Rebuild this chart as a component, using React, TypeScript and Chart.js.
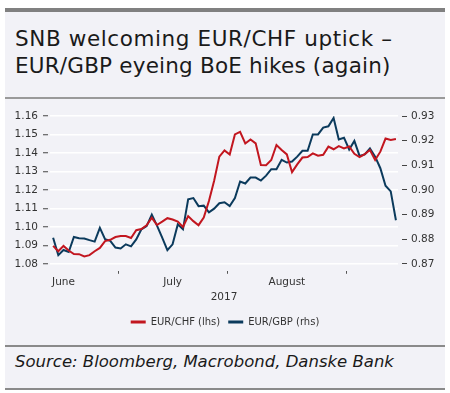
import React, { useEffect, useRef } from 'react';
import { Chart, registerables } from 'chart.js';

Chart.register(...registerables);

const dates = [
  '2017-06-14', '2017-06-15', '2017-06-16', '2017-06-19', '2017-06-20', '2017-06-21', '2017-06-22', '2017-06-23',
  '2017-06-26', '2017-06-27', '2017-06-28', '2017-06-29', '2017-06-30',
  '2017-07-03', '2017-07-04', '2017-07-05', '2017-07-06', '2017-07-07', '2017-07-10', '2017-07-11', '2017-07-12',
  '2017-07-13', '2017-07-14', '2017-07-17', '2017-07-18', '2017-07-19', '2017-07-20', '2017-07-21', '2017-07-24',
  '2017-07-25', '2017-07-26', '2017-07-27', '2017-07-28', '2017-07-31',
  '2017-08-01', '2017-08-02', '2017-08-03', '2017-08-04', '2017-08-07', '2017-08-08', '2017-08-09', '2017-08-10',
  '2017-08-11', '2017-08-14', '2017-08-15', '2017-08-16', '2017-08-17', '2017-08-18', '2017-08-21', '2017-08-22',
  '2017-08-23', '2017-08-24', '2017-08-25', '2017-08-28', '2017-08-29', '2017-08-30', '2017-08-31',
  '2017-09-01', '2017-09-04', '2017-09-05', '2017-09-06', '2017-09-07', '2017-09-08', '2017-09-11', '2017-09-12',
  '2017-09-13', '2017-09-14',
];

const eurChf = [
  1.0897, 1.0868, 1.0897, 1.0872, 1.0853, 1.0852, 1.0840, 1.0847, 1.0868, 1.0886, 1.0923, 1.0930, 1.0945,
  1.0950, 1.0950, 1.0940, 1.0982, 1.0988, 1.1008, 1.1049, 1.1010, 1.1028, 1.1047, 1.1040, 1.1028, 1.0999,
  1.1058, 1.1031, 1.1009, 1.1050, 1.1140, 1.1250, 1.1380, 1.1414,
  1.1392, 1.1500, 1.1514, 1.1451, 1.1473, 1.1452, 1.1335, 1.1334, 1.1362, 1.1443, 1.1416, 1.1392, 1.1296,
  1.1338, 1.1375, 1.1378, 1.1398, 1.1385, 1.1390, 1.1434, 1.1420, 1.1437, 1.1425,
  1.1435, 1.1395, 1.1378, 1.1394, 1.1416, 1.1362, 1.1407, 1.1478, 1.1470, 1.1475,
];

const eurGbp = [
  0.8806, 0.8735, 0.8756, 0.8748, 0.8809, 0.8804, 0.8803, 0.8796, 0.8790, 0.8846, 0.8800, 0.8793, 0.8766,
  0.8762, 0.8779, 0.8771, 0.8799, 0.8840, 0.8853, 0.8900, 0.8855, 0.8806, 0.8755, 0.8779, 0.8860, 0.8840,
  0.8962, 0.8967, 0.8934, 0.8936, 0.8909, 0.8924, 0.8946, 0.8950,
  0.8934, 0.8967, 0.9034, 0.9026, 0.9050, 0.9050, 0.9038, 0.9058, 0.9084, 0.9084, 0.9122, 0.9111, 0.9115,
  0.9135, 0.9159, 0.9159, 0.9225, 0.9225, 0.9253, 0.9258, 0.9292, 0.9205, 0.9212,
  0.9164, 0.9199, 0.9138, 0.9144, 0.9168, 0.9135, 0.9088, 0.9017, 0.8994, 0.8877,
];

const leftTicks = [1.08, 1.09, 1.10, 1.11, 1.12, 1.13, 1.14, 1.15, 1.16];
const rightTicks = [0.87, 0.88, 0.89, 0.90, 0.91, 0.92, 0.93];
const monthNames: Record<string, string> = { '06': 'June', '07': 'July', '08': 'August' };
const yearLabel = '2017';
const seriesNames = ['EUR/CHF (lhs)', 'EUR/GBP (rhs)'];

const RED = '#c2161f';
const BLUE = '#0b3a5c';
const FONT = '"DejaVu Sans"';
const TEXT = '#333333';

// month boundaries (between last day of one month and first of the next)
const monthBounds: number[] = [];
for (let i = 1; i < dates.length; i++) {
  if (dates[i].slice(5, 7) !== dates[i - 1].slice(5, 7)) monthBounds.push(i - 0.5);
}
// month label positions: first business day on/after the 16th
const monthLabelPos: number[] = [];
const monthLabelText: string[] = [];
Object.keys(monthNames).forEach((m) => {
  const idx = dates.findIndex((d) => d.slice(5, 7) === m && Number(d.slice(8, 10)) >= 16);
  if (idx >= 0) {
    monthLabelPos.push(idx);
    monthLabelText.push(monthNames[m]);
  }
});

function ChartBox() {
  const ref = useRef<HTMLCanvasElement | null>(null);
  useEffect(() => {
    if (!ref.current) return;
    const xMin = -0.6;
    const xMax = dates.length - 0.6;
    const chart = new Chart(ref.current, {
      type: 'line',
      data: {
        datasets: [
          {
            label: seriesNames[0],
            data: eurChf.map((v, i) => ({ x: i, y: v })),
            borderColor: RED,
            backgroundColor: RED,
            borderWidth: 2,
            pointRadius: 0,
            pointStyle: 'line',
            tension: 0,
            yAxisID: 'y',
            xAxisID: 'x',
          },
          {
            label: seriesNames[1],
            data: eurGbp.map((v, i) => ({ x: i, y: v })),
            borderColor: BLUE,
            backgroundColor: BLUE,
            borderWidth: 2,
            pointRadius: 0,
            pointStyle: 'line',
            tension: 0,
            yAxisID: 'y1',
            xAxisID: 'x',
          },
        ],
      },
      options: {
        animation: false,
        responsive: false,
        maintainAspectRatio: false,
        layout: { padding: { top: 16, bottom: 3, left: 0, right: 0 } },
        plugins: {
          tooltip: { enabled: false },
          legend: {
            position: 'bottom',
            labels: {
              usePointStyle: true,
              pointStyleWidth: 15,
              boxHeight: 10,
              padding: 8,
              color: TEXT,
              font: { family: FONT, size: 10 },
              generateLabels: (c: any) =>
                Chart.defaults.plugins.legend.labels.generateLabels(c).map((l: any) => ({ ...l, lineWidth: 3 })),
            },
          },
        },
        scales: {
          x: {
            type: 'linear',
            position: 'bottom',
            min: xMin,
            max: xMax,
            afterBuildTicks: (s: any) => {
              s.ticks = monthBounds.map((v) => ({ value: v }));
            },
            ticks: { display: false },
            grid: {
              drawOnChartArea: false,
              drawTicks: true,
              tickLength: 10,
              tickColor: '#555',
              tickWidth: 1,
              tickBorderDash: [0, 7, 3, 10],
            },
            border: { display: false },
          },
          x2: {
            type: 'linear',
            position: 'bottom',
            min: xMin,
            max: xMax,
            afterBuildTicks: (s: any) => {
              s.ticks = monthLabelPos.map((v) => ({ value: v }));
            },
            ticks: {
              autoSkip: false,
              maxRotation: 0,
              padding: 2,
              color: TEXT,
              font: { family: FONT, size: 10.5 },
              callback: (_v: any, i: number) => monthLabelText[i],
            },
            grid: { display: false, drawTicks: false },
            border: { display: false },
            title: {
              display: true,
              text: yearLabel,
              color: TEXT,
              font: { family: FONT, size: 10.5 },
              padding: { top: 1, bottom: 5 },
            },
          },
          y: {
            type: 'linear',
            position: 'left',
            min: leftTicks[0],
            max: leftTicks[leftTicks.length - 1],
            afterBuildTicks: (s: any) => {
              s.ticks = leftTicks.map((v) => ({ value: v }));
            },
            afterFit: (s: any) => {
              s.width = 45;
            },
            ticks: {
              padding: 5,
              color: TEXT,
              font: { family: FONT, size: 10.5 },
              callback: (v: any) => Number(v).toFixed(2),
            },
            grid: {
              color: '#ffffff',
              lineWidth: 1.5,
              tickColor: '#444',
              tickWidth: 1,
              tickLength: 7,
              tickBorderDash: [5, 10],
            },
            border: { display: false },
          },
          y1: {
            type: 'linear',
            position: 'right',
            min: rightTicks[0],
            max: rightTicks[rightTicks.length - 1],
            afterBuildTicks: (s: any) => {
              s.ticks = rightTicks.map((v) => ({ value: v }));
            },
            afterFit: (s: any) => {
              s.width = 47;
            },
            ticks: {
              padding: 4,
              color: TEXT,
              font: { family: FONT, size: 10.5 },
              callback: (v: any) => Number(v).toFixed(2),
            },
            grid: {
              drawOnChartArea: false,
              tickColor: '#444',
              tickWidth: 1,
              tickLength: 9,
              tickBorderDash: [0, 4, 5, 10],
            },
            border: { display: false },
          },
        },
      },
    } as any);
    return () => chart.destroy();
  }, []);
  return <canvas ref={ref} width={440} height={240} style={{ display: 'block', width: 440, height: 240 }} />;
}

export default function App() {
  const abs = (s: React.CSSProperties): React.CSSProperties => ({ position: 'absolute', ...s });
  return (
    <div style={abs({ left: 0, top: 0, width: 450, height: 393, background: '#ffffff', fontFamily: FONT })}>
      <div style={abs({ left: 5, top: 8, width: 440, height: 382, background: '#f2f2f7' })} />
      <div style={abs({ left: 5, top: 8, width: 440, height: 4, background: '#808080' })} />
      <div
        style={abs({
          left: 15,
          top: 26,
          fontSize: 21.5,
          lineHeight: '26.5px',
          color: '#1a1a1a',
          whiteSpace: 'nowrap',
        })}
      >
        <div style={{ letterSpacing: 0.6 }}>SNB welcoming EUR/CHF uptick –</div>
        <div style={{ letterSpacing: 0.2 }}>EUR/GBP eyeing BoE hikes (again)</div>
      </div>
      <div style={abs({ left: 5, top: 97, width: 440, height: 2, background: '#9a9a9a' })} />
      <div style={abs({ left: 5, top: 100, width: 440, height: 240 })}>
        <ChartBox />
      </div>
      <div style={abs({ left: 5, top: 345, width: 440, height: 2, background: '#8a8a8a' })} />
      <div
        style={abs({
          left: 15,
          top: 352,
          fontSize: 16.5,
          lineHeight: '20px',
          fontStyle: 'italic',
          color: '#1a1a1a',
          whiteSpace: 'nowrap',
        })}
      >
        Source: Bloomberg, Macrobond, Danske Bank
      </div>
      <div style={abs({ left: 5, top: 388, width: 440, height: 2, background: '#8a8a8a' })} />
    </div>
  );
}
